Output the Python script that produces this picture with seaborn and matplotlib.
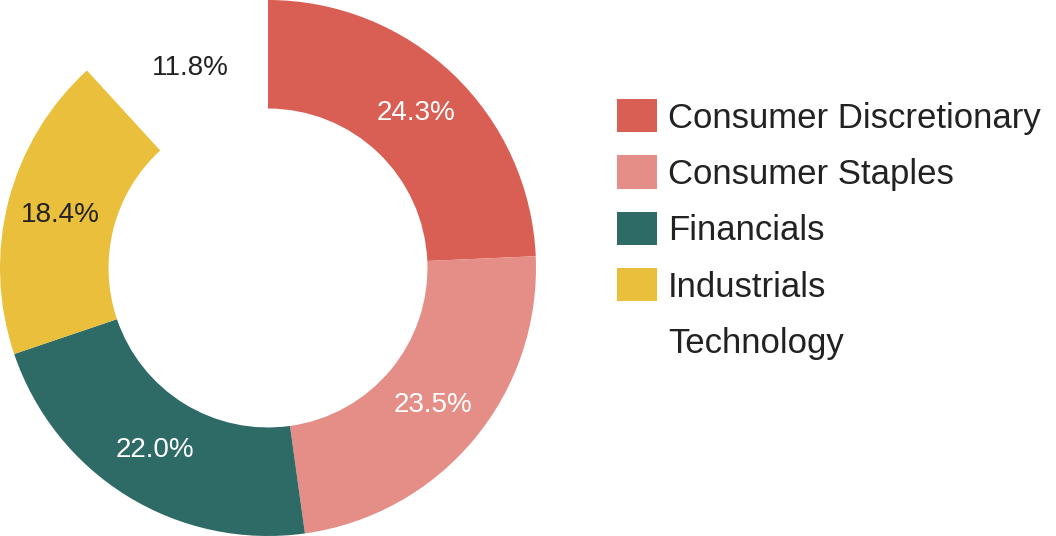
import matplotlib
matplotlib.use("Agg")
import matplotlib.pyplot as plt
import seaborn as sns
from matplotlib.patches import Patch

sns.set_theme(style="white")
plt.rcParams['font.family'] = ['Liberation Sans', 'DejaVu Sans']

categories = ["Consumer Discretionary", "Consumer Staples", "Financials", "Industrials", "Technology"]
values = [24.3, 23.5, 22.0, 18.4, 11.8]
colors = ["#D95F55", "#E58E87", "#2E6A66", "#E9BF3C", "#FFFFFF"]
label_colors = ["white", "white", "white", "#222222", "#222222"]

fig = plt.figure(figsize=(10.56, 5.36), dpi=100)
ax = fig.add_axes([0, 0, 536/1056, 1])
wedges, texts, autotexts = ax.pie(values, colors=colors, startangle=90, counterclock=False,
                                  autopct="%1.1f%%", pctdistance=0.80,
                                  wedgeprops=dict(width=0.405, linewidth=0),
                                  textprops=dict(fontsize=20))
for t, c in zip(autotexts, label_colors):
    t.set_color(c)
ax.set_aspect("equal")
ax.set_xlim(-1, 1); ax.set_ylim(-1, 1)

handles = [Patch(facecolor=c, edgecolor="none") for c in colors]
fig.legend(handles, categories, loc="upper left", bbox_to_anchor=(0.584, 0.815),
           frameon=False, fontsize=25, handlelength=1.15, handleheight=1.1,
           labelspacing=0.6, handletextpad=0.33, borderaxespad=0, borderpad=0,
           labelcolor="#222222")
fig.savefig("out.png", dpi=100)
